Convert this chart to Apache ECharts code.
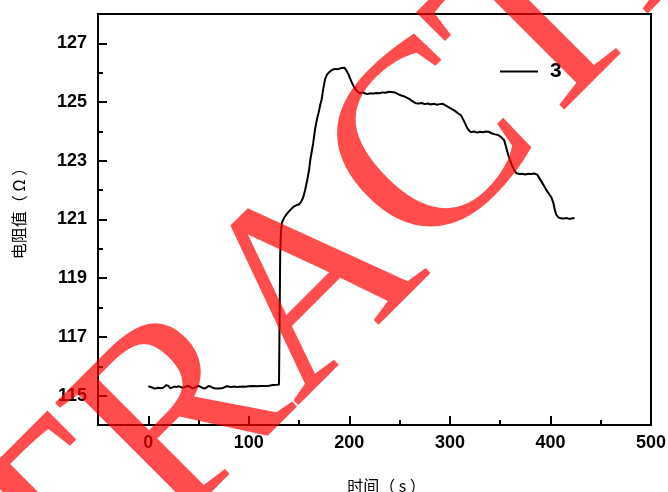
<!DOCTYPE html>
<html><head><meta charset="utf-8">
<script src="https://cdn.jsdelivr.net/npm/echarts@6/dist/echarts.min.js"></script>
<style>html,body{margin:0;padding:0;background:#fff}#c{width:668px;height:492px}</style>
</head><body><div id="c"></div>
<script>
const seriesName = '3';
const timeS = [0,2,4,6,8,10,12,14,16,18,20,22,24,26,28,30,32,34,36,38,40,42,44,46,48,50,52,54,56,58,60,62,64,66,68,70,72,74,76,78,80,82,84,86,88,90,92,94,96,98,100,104,108,112,116,120,124,128,130,
130.6,131.2,132,133,135,138,141,144,147,150,152,154,156,158,160,161,162.5,164,166,168,169.5,171,172.5,174,176,178,180,183,186,189,192,195,197,199,201,203,205,207,209,211,213,215,218,221,224,227,230,233,236,239,242,245,248,251,254,257,260,263,266,269,272,275,278,281,284,287,290,293,296,299,302,305,308,311,313,315,317,319,321,324,327,330,333,336,339,342,345,348,351,354,356,358,360,362,364,366,369,372,375,378,381,384,387,390,393,396,399,401,403,404.5,406,408,410,413,416,419,422,424];
const resistance = [115.31,115.30,115.28,115.24,115.25,115.27,115.25,115.26,115.30,115.36,115.33,115.25,115.28,115.31,115.29,115.32,115.30,115.27,115.29,115.32,115.33,115.29,115.25,115.27,115.31,115.33,115.30,115.26,115.24,115.28,115.33,115.31,115.27,115.25,115.24,115.24,115.25,115.26,115.29,115.32,115.31,115.29,115.30,115.31,115.29,115.30,115.30,115.31,115.30,115.31,115.32,115.33,115.32,115.33,115.33,115.34,115.36,115.37,115.38,
117.5,119.8,120.6,120.9,121.05,121.2,121.32,121.42,121.48,121.52,121.6,121.75,122.0,122.33,122.7,123.0,123.3,123.6,124.1,124.45,124.65,124.9,125.1,125.45,125.8,125.95,126.02,126.1,126.13,126.12,126.16,126.17,126.08,125.95,125.78,125.62,125.5,125.4,125.33,125.3,125.33,125.3,125.27,125.3,125.29,125.31,125.3,125.33,125.32,125.35,125.34,125.33,125.28,125.23,125.2,125.15,125.1,125.02,124.96,124.95,124.97,124.93,124.95,124.92,124.94,124.91,124.93,124.94,124.88,124.82,124.76,124.7,124.62,124.55,124.42,124.28,124.13,124.03,123.97,124.0,123.96,123.99,123.97,124.0,123.98,123.93,123.9,123.88,123.8,123.7,123.45,123.2,123.0,122.82,122.68,122.58,122.55,122.56,122.53,122.56,122.55,122.57,122.52,122.35,122.18,122.0,121.85,121.75,121.55,121.3,121.15,121.07,121.04,121.03,121.05,121.02,121.04,121.05];
const xMajorTicks = [0,100,200,300,400,500];
const xMinorTicks = [50,150,250,350,450];
const yMajorTicks = [115,117,119,121,123,125,127];
const yMinorTicks = [116,118,120,122,124,126];
const xAxisTitle = '时间（ s ）';
const yAxisTitle = '电阻值（ Ω ）';
const watermarkLetters = ['R','E','T','R','A','C','T','E','D'];
const watermarkOffsetX = [-679,-511,-351,-183,0,181,344,504,672];
const watermarkOffsetY = [0,0,0,0,0,-12,-21,-30,-40];

const chart = echarts.init(document.getElementById('c'), null, {renderer:'canvas'});
const tickFont = {color:'#000', fontSize:18, fontWeight:'bold', fontFamily:'Liberation Sans'};
const nameFont = {color:'#000', fontSize:16, fontFamily:'Noto Sans CJK SC'};
const points = timeS.map((t,i)=>[t, resistance[i]]);
chart.setOption({
  animation:false,
  grid:{left:98, right:17, top:14, bottom:67, show:true, borderColor:'#000', borderWidth:2, backgroundColor:'transparent', containLabel:false, outerBoundsMode:'none'},
  legend:{left:495, top:56, itemWidth:38, itemHeight:16, icon:'path://M0,7L38,7L38,9L0,9Z',
    data:[seriesName], textStyle:{color:'#000', fontSize:21, fontWeight:'bold', fontFamily:'Liberation Sans', padding:[0,0,0,7]},
    itemStyle:{color:'#000'}},
  xAxis:[
    {type:'value', min:-50, max:500, interval:50, gridIndex:0,
     name:xAxisTitle, nameLocation:'middle', nameGap:53, nameTextStyle:Object.assign({padding:[0,0,0,24]}, nameFont),
     axisLine:{show:true, onZero:false, lineStyle:{color:'#000', width:2}},
     axisTick:{show:true, inside:true, length:9, lineStyle:{color:'#000', width:2}, customValues:xMajorTicks},
     axisLabel:Object.assign({margin:9, customValues:xMajorTicks}, tickFont),
     splitLine:{show:false}},
    {type:'value', min:-50, max:500, interval:50, gridIndex:0, position:'bottom',
     axisLine:{show:false, onZero:false},
     axisTick:{show:true, inside:true, length:5, lineStyle:{color:'#000', width:2}, customValues:xMinorTicks},
     axisLabel:{show:false}, splitLine:{show:false}}
  ],
  yAxis:[
    {type:'value', min:114, max:128, interval:1, gridIndex:0,
     name:yAxisTitle, nameLocation:'middle', nameGap:71, nameRotate:90, nameTextStyle:Object.assign({padding:[0,0,0,20]}, nameFont),
     axisLine:{show:true, onZero:false, lineStyle:{color:'#000', width:2}},
     axisTick:{show:true, inside:true, length:9, lineStyle:{color:'#000', width:2}, customValues:yMajorTicks},
     axisLabel:Object.assign({margin:11, customValues:yMajorTicks}, tickFont),
     splitLine:{show:false}},
    {type:'value', min:114, max:128, interval:1, gridIndex:0, position:'left',
     axisLine:{show:false, onZero:false},
     axisTick:{show:true, inside:true, length:5, lineStyle:{color:'#000', width:2}, customValues:yMinorTicks},
     axisLabel:{show:false}, splitLine:{show:false}}
  ],
  series:[{name:seriesName, type:'line', xAxisIndex:0, yAxisIndex:0, data:points, symbol:'none', showSymbol:false,
    lineStyle:{color:'#000', width:2}, itemStyle:{color:'#000'}}],
  graphic:[{type:'group', x:315, y:290, rotation:45*Math.PI/180, z:100, silent:true,
    children: watermarkLetters.map((ch,i)=>({type:'text', x:watermarkOffsetX[i], y:watermarkOffsetY[i], z:100, silent:true,
      style:{text:ch, fontSize:265, fontFamily:'Liberation Serif', fill:'rgba(255,0,0,0.7)', align:'center', verticalAlign:'middle'}}))}]
});
</script></body></html>
